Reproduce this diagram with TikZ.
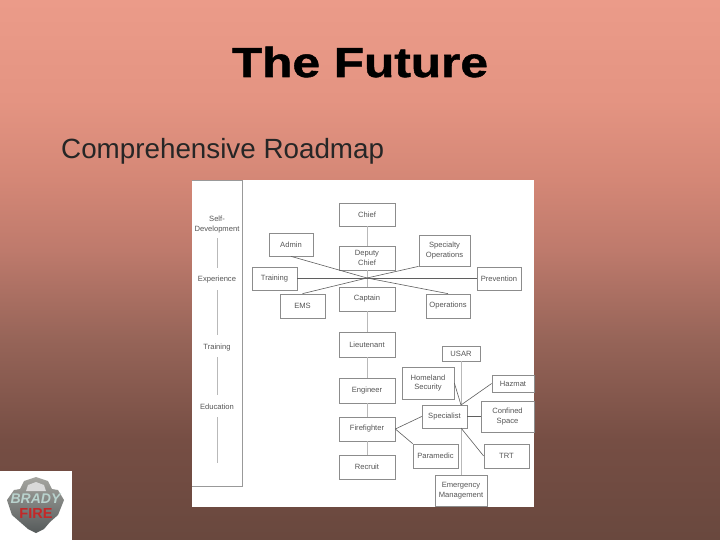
\documentclass[tikz,border=0pt]{standalone}
\usepackage{fontspec}
\setmainfont{Liberation Sans}
\newfontfamily\ttlfont[UprightFont=* Bold,FakeStretch=1.18,FakeBold=1.2]{Liberation Sans}
\usetikzlibrary{calc}
\definecolor{bxline}{RGB}{140,140,140}
\definecolor{bxtext}{RGB}{85,85,85}
\definecolor{lnk}{RGB}{95,95,95}
\definecolor{pale}{RGB}{185,185,185}
\definecolor{badgeb}{RGB}{185,210,205}
\definecolor{badger}{RGB}{195,40,40}
\definecolor{badgetop}{RGB}{165,165,160}
\definecolor{badgebot}{RGB}{85,90,90}
\definecolor{sa}{RGB}{105,72,62}
\definecolor{sb}{RGB}{118,78,68}
\definecolor{sc}{RGB}{150,100,88}
\definecolor{sd}{RGB}{190,122,108}
\definecolor{se}{RGB}{212,135,118}
\definecolor{sf}{RGB}{228,148,130}
\definecolor{sg}{RGB}{235,155,137}
\pgfdeclareverticalshading{slidebg}{100bp}{color(0bp)=(sa); color(25bp)=(sa); color(34.25bp)=(sb); color(43.5bp)=(sc); color(51.85bp)=(sd); color(58.35bp)=(se); color(65.75bp)=(sf); color(75bp)=(sg); color(100bp)=(sg)}
\tikzset{
 bx/.style={draw=bxline,line width=.7pt,fill=white,inner sep=0pt,align=center,text=bxtext,font=\fontsize{7.6}{9.6}\selectfont},
 lab/.style={inner sep=0pt,align=center,text=bxtext,font=\fontsize{7.6}{9.6}\selectfont},
 lnkd/.style={draw=lnk,line width=.6pt},
 vert/.style={draw=pale,line width=.8pt},
 sidebar/.style={draw=gray!80,line width=.7pt}
}
\newcommand{\bxat}[6]{\node[bx,minimum width=#3pt-#1pt,minimum height=#4pt-#2pt] (#5) at ({(#1+#3)/2},{(#2+#4)/2}) {#6};}
\begin{document}
\begin{tikzpicture}[x=1pt,y=-1pt]
\useasboundingbox (0,0) rectangle (720,540);
\shade[shading=slidebg,draw=none] (0,0) rectangle (720,540);
% titles
\node[inner sep=0pt,anchor=base,font=\fontsize{42}{50}\ttlfont,text=black] (title) at (360,77) {The Future};
\node[inner sep=0pt,anchor=base west,font=\fontsize{27.8}{30}\selectfont,text=black!85] (sub) at (61,158.5) {Comprehensive Roadmap};
% panel
\fill[white] (192,180) rectangle (534,507);
\draw[sidebar] (192,180) -- (242,180) -- (242,486) -- (192,486);
\node[lab] (selfdev) at (217,224.5) {Self-\\Development};
\node[lab] (exper) at (217,280) {Experience};
\node[lab] (train2) at (217,348) {Training};
\node[lab] (educ) at (217,407) {Education};
\draw[vert] (217,238) -- (217,268);
\draw[vert] (217,290) -- (217,335);
\draw[vert] (217,357) -- (217,395);
\draw[vert] (217,417) -- (217,463);
% ranks
\bxat{339}{203}{395}{226}{chief}{Chief}
\bxat{339}{246}{395}{270}{deputy}{Deputy\\Chief}
\bxat{339}{287}{395}{311}{captain}{Captain}
\bxat{339}{332}{395}{357}{lieut}{Lieutenant}
\bxat{339}{378}{395}{403}{engineer}{Engineer}
\bxat{339}{417}{395}{441}{firefighter}{Firefighter}
\bxat{339}{455}{395}{479}{recruit}{Recruit}
\bxat{269}{233}{313}{256}{admin}{Admin}
\bxat{252}{267}{297}{290}{training}{Training}
\bxat{280}{294}{325}{318}{ems}{EMS}
\bxat{419}{235}{470}{266}{specops}{Specialty\\Operations}
\bxat{477}{267}{521}{290}{prevention}{Prevention}
\bxat{426}{294}{470}{318}{operations}{Operations}
\bxat{442}{346}{480}{361}{usar}{USAR}
\bxat{402}{367}{454}{399}{homeland}{Homeland\\Security}
\bxat{492}{375}{534}{392}{hazmat}{Hazmat}
\bxat{422}{405}{467}{428}{specialist}{Specialist}
\bxat{481}{401}{534}{432}{confined}{Confined\\Space}
\bxat{484}{444}{529}{468}{trt}{TRT}
\bxat{413}{444}{458}{468}{paramedic}{Paramedic}
\bxat{435}{475}{487}{506}{emergency}{Emergency\\Management}
\coordinate (hub) at (367,278);
\coordinate (spectop) at (461,405);
\coordinate (specbot) at (461,428);
% vertical spine
\draw[vert] (chief.south) -- (deputy.north);
\draw[vert] (deputy.south) -- (captain.north);
\draw[vert] (captain.south) -- (lieut.north);
\draw[vert] (lieut.south) -- (engineer.north);
\draw[vert] (engineer.south) -- (firefighter.north);
\draw[vert] (firefighter.south) -- (recruit.north);
% hub links
\draw[lnkd] (admin.south) -- (hub);
\draw[lnkd] (training.east) -- (prevention.west);
\draw[lnkd] (ems.north) -- (hub);
\draw[lnkd] (hub) -- (specops.south west);
\draw[lnkd] (hub) -- (operations.north);
% specialist links
\draw[vert] (usar.south) -- (spectop);
\draw[vert] (specbot) -- (emergency.north);
\draw[lnkd] (homeland.east) -- (spectop);
\draw[lnkd] (hazmat.west) -- (spectop);
\draw[lnkd] (specialist.east) -- (confined.west);
\draw[lnkd] (specbot) -- (trt.west);
\draw[lnkd] (firefighter.east) -- (specialist.west);
\draw[lnkd] (firefighter.east) -- (paramedic.north west);
% logo
\fill[white] (0,471) rectangle (72,540);
\shade[top color=badgetop,bottom color=badgebot] (24,481) -- (36,477) -- (48,481) -- (52,489) -- (58,490) -- (64,500) -- (58,515) -- (50,522) -- (44,529) -- (36,533) -- (28,529) -- (20,522) -- (12,515) -- (7,500) -- (14,490) -- (20,489) -- cycle;
\fill[white!70!gray] (28,485) -- (36,482) -- (44,485) -- (46,491) -- (26,491) -- cycle;
\node[inner sep=0pt,font=\fontsize{14}{14}\selectfont\bfseries\itshape,text=badgeb] (brady) at (35.5,499) {BRADY};
\node[inner sep=0pt,font=\fontsize{14.5}{14}\selectfont\bfseries,text=badger] (fire) at (36,514) {FIRE};
\end{tikzpicture}
\end{document}
